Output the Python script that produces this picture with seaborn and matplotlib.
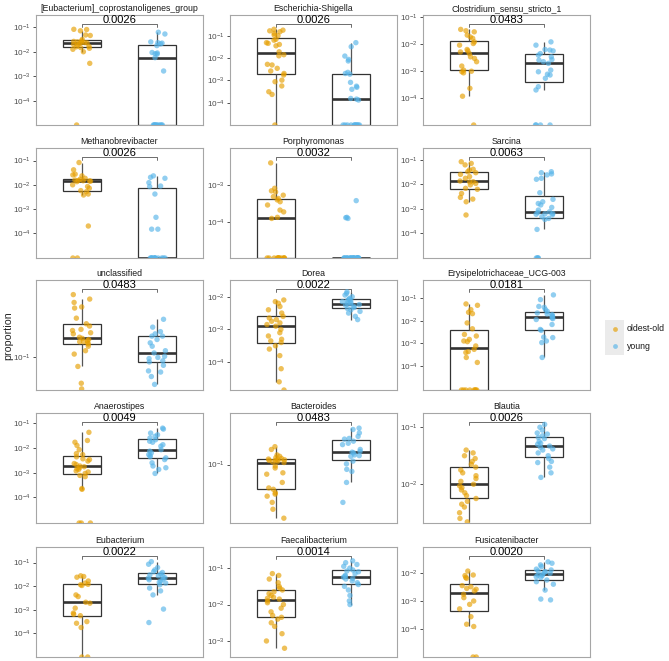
import numpy as np
import pandas as pd
import matplotlib
matplotlib.use('Agg')
import matplotlib.pyplot as plt
import seaborn as sns

# genera shown (facet order) and the p-values printed over each bracket
genera = ['[Eubacterium]_coprostanoligenes_group', 'Escherichia-Shigella', 'Clostridium_sensu_stricto_1',
          'Methanobrevibacter', 'Porphyromonas', 'Sarcina',
          'unclassified', 'Dorea', 'Erysipelotrichaceae_UCG-003',
          'Anaerostipes', 'Bacteroides', 'Blautia',
          'Eubacterium', 'Faecalibacterium', 'Fusicatenibacter']
p_values = ['0.0026', '0.0026', '0.0483', '0.0026', '0.0032', '0.0063', '0.0483', '0.0022',
            '0.0181', '0.0049', '0.0483', '0.0026', '0.0022', '0.0014', '0.0020']
groups = ['oldest-old', 'young']

# log10(proportion), None = proportion of 0
old_eubcop = [-1.09, -1.1, -1.15, -1.32, -1.34, -1.5, -1.56, -1.58, -1.6, -1.62, -1.63, -1.64, -1.66, -1.7,
              -1.73, -1.78, -1.8, -1.83, -1.86, -1.9, -2.0, -2.47, None]
young_eubcop = [-1.21, -1.28, -1.6, -1.63, -1.65, -1.68, -1.75, -2.03, -2.05, -2.08, -2.1, -2.24, -2.78] + [None] * 10

old_esch = [-0.71, -0.75, -0.78, -0.82, -0.89, -0.97, -1.0, -1.16, -1.2, -1.31, -1.34, -1.39, -1.45, -1.72, -1.85,
            -1.9, -2.28, -2.31, -2.46, -2.58, -2.69, -2.76, -2.99, -3.06, -3.25, -3.51, -3.63, None]
young_esch = [-1.31, -1.49, -1.91, -2.06, -2.13, -2.64, -2.69, -2.72, -3.09, -3.26, -3.31, -3.4, -3.81, -3.84,
              -3.88] + [None] * 11

old_clos = [-1.46, -1.51, -1.55, -1.67, -1.74, -1.79, -1.92, -1.98, -2.04, -2.2, -2.25, -2.29, -2.35, -2.47, -2.53,
            -2.65, -2.81, -2.96, -3.0, -3.02, -3.06, -3.63, -3.92, None]
young_clos = [-1.92, -2.04, -2.2, -2.22, -2.25, -2.35, -2.41, -2.47, -2.57, -2.59, -2.65, -2.71, -2.96, -3.02, -3.11,
              -3.14, -3.26, -3.57, -3.69] + [None] * 4

old_meth = [-1.08, -1.38, -1.56, -1.59, -1.63, -1.73, -1.77, -1.8, -1.82, -1.83, -1.84, -1.85, -1.87, -2.0, -2.07,
            -2.14, -2.24, -2.28, -2.38, -2.42, -3.7, None, None]
young_meth = [-1.63, -1.69, -1.73, -1.91, -2.05, -2.07, -2.38, -3.34, -3.83, -3.83] + [None] * 12

old_porph = [-2.38, -3.08, -3.15, -3.18, -3.27, -3.31, -3.36, -3.4, -3.45, -3.54, -3.68, -3.73, -3.88,
             -3.91] + [None] * 12
young_porph = [-3.42, -3.89, -3.91, -3.88] + [None] * 22

old_sarc = [-1.07, -1.14, -1.2, -1.38, -1.41, -1.48, -1.52, -1.59, -1.68, -1.75, -1.86, -1.89, -1.9, -1.96, -2.02,
            -2.16, -2.2, -2.37, -2.53, -2.6, -2.71, -3.25]
young_sarc = [-1.48, -1.52, -1.57, -1.61, -1.75, -1.79, -2.34, -2.61, -2.71, -2.78, -2.84, -2.94, -3.05, -3.12, -3.15,
              -3.19, -3.2, -3.22, -3.25, -3.32, -3.39, -3.43, -3.84] + [None] * 4

old_uncl = [-0.44, -0.48, -0.51, -0.55, -0.56, -0.65, -0.7, -0.72, -0.75, -0.76, -0.78, -0.79, -0.82, -0.83, -0.84,
            -0.85, -0.86, -0.86, -0.87, -0.88, -0.9, -0.94, -0.97, -1.08, -1.23, -1.28]
young_uncl = [-0.66, -0.73, -0.77, -0.79, -0.81, -0.81, -0.84, -0.87, -0.9, -0.94, -0.96, -0.99, -1.0, -1.01, -1.03,
              -1.04, -1.07, -1.12, -1.13, -1.17, -1.24]

old_dorea = [-2.1, -2.15, -2.2, -2.3, -2.4, -2.5, -2.6, -2.65, -2.7, -2.75, -2.8, -2.85, -2.9, -3.0, -3.1, -3.2, -3.3,
             -3.35, -3.4, -3.5, -3.6, -3.8, -4.2, -4.6, None]
young_dorea = [-1.85, -1.9, -1.95, -2.0, -2.05, -2.08, -2.1, -2.12, -2.15, -2.18, -2.2, -2.22, -2.24, -2.26, -2.3,
               -2.33, -2.36, -2.4, -2.45, -2.5, -2.6, -2.7]

old_erys = [-1.26, -1.32, -1.51, -1.63, -1.69, -2.1, -2.36, -2.61, -2.68, -2.83, -2.9, -2.93, -3.12, -3.27, -3.37,
            -3.41, -3.63, -3.85] + [None] * 8
young_erys = [-0.86, -1.07, -1.37, -1.41, -1.51, -1.59, -1.66, -1.7, -1.73, -1.78, -1.81, -1.88, -1.91, -1.95, -2.17,
              -2.39, -2.43, -2.73, -2.75, -2.9, -2.97, -3.63]

old_anae = [-1.37, -1.7, -1.77, -1.9, -2.07, -2.23, -2.27, -2.36, -2.44, -2.47, -2.53, -2.63, -2.67, -2.73, -2.76,
            -2.8, -2.84, -2.87, -2.93, -2.97, -3.03, -3.11, -3.16, -3.64, -3.67, None, None, None]
young_anae = [-1.2, -1.24, -1.4, -1.47, -1.53, -1.6, -1.67, -1.73, -1.77, -1.87, -1.93, -2.07, -2.13, -2.2, -2.27,
              -2.31, -2.36, -2.4, -2.47, -2.6, -2.73, -2.8, -2.87, -3.03]

old_bact = [-0.74, -0.78, -0.86, -0.88, -0.9, -0.91, -0.92, -0.93, -0.93, -0.94, -0.94, -0.95, -0.96, -0.97, -1.02,
            -1.05, -1.12, -1.14, -1.26, -1.34, -1.36, -1.41, -1.43, -1.46, -1.55, -1.65, -1.78]
young_bact = [-0.47, -0.49, -0.54, -0.59, -0.62, -0.63, -0.66, -0.69, -0.71, -0.78, -0.81, -0.82, -0.83, -0.86, -0.87,
              -0.88, -0.95, -0.99, -1.07, -1.1, -1.26, -1.55]

old_blau = [-1.4, -1.45, -1.5, -1.55, -1.6, -1.65, -1.7, -1.75, -1.8, -1.85, -1.9, -1.95, -2.0, -2.03, -2.06, -2.1,
            -2.15, -2.2, -2.25, -2.3, -2.35, -2.4, -2.5, -2.6, -2.66]
young_blau = [-0.95, -1.0, -1.05, -1.1, -1.12, -1.15, -1.18, -1.2, -1.25, -1.28, -1.3, -1.33, -1.35, -1.38, -1.4,
              -1.45, -1.5, -1.55, -1.6, -1.62, -1.7, -1.8, -1.88]

old_eubac = [-1.56, -1.59, -1.62, -1.78, -1.87, -1.92, -1.94, -1.97, -2.37, -2.44, -2.68, -2.72, -2.93, -3.14, -3.19,
             -3.25, -3.5, -3.57, -3.75, None, None]
young_eubac = [-0.96, -1.07, -1.21, -1.31, -1.38, -1.42, -1.48, -1.52, -1.56, -1.59, -1.64, -1.66, -1.7, -1.73, -1.78,
               -1.83, -1.87, -1.94, -2.08, -2.2, -2.37, -2.97, -3.54]

old_faec = [-1.15, -1.2, -1.3, -1.4, -1.5, -1.55, -1.6, -1.65, -1.7, -1.75, -1.8, -1.83, -1.85, -1.9, -1.95, -2.0,
            -2.1, -2.2, -2.3, -2.35, -2.4, -2.5, -2.6, -2.8, -3.0, -3.2]
young_faec = [-0.8, -0.85, -0.9, -0.95, -1.0, -1.05, -1.08, -1.1, -1.15, -1.2, -1.22, -1.25, -1.28, -1.3, -1.35,
              -1.4, -1.45, -1.5, -1.6, -1.75, -1.9, -2.0]

old_fusi = [-1.92, -2.06, -2.08, -2.15, -2.18, -2.44, -2.48, -2.54, -2.57, -2.63, -2.75, -2.87, -2.99, -3.11, -3.27,
            -3.55, -3.82, -3.9, None, None]
young_fusi = [-1.59, -1.64, -1.7, -1.76, -1.85, -1.88, -1.92, -1.94, -1.96, -2.0, -2.03, -2.06, -2.08, -2.12, -2.15,
              -2.24, -2.3, -2.39, -2.6, -2.92, -2.95]

old_series = [old_eubcop, old_esch, old_clos, old_meth, old_porph, old_sarc, old_uncl, old_dorea, old_erys,
              old_anae, old_bact, old_blau, old_eubac, old_faec, old_fusi]
young_series = [young_eubcop, young_esch, young_clos, young_meth, young_porph, young_sarc, young_uncl, young_dorea,
                young_erys, young_anae, young_bact, young_blau, young_eubac, young_faec, young_fusi]

# visible y range of each facet, log10 units
y_range = [(-4.97, -0.51), (-5.0, -0.07), (-4.98, -0.93), (-5.02, -0.48), (-5.0, -1.97), (-5.01, -0.51),
           (-1.29, -0.31), (-4.85, -1.49), (-5.07, -0.2), (-5.03, -0.59), (-1.85, -0.25), (-2.68, -0.75),
           (-5.0, -0.34), (-3.44, -0.42), (-4.99, -1.06)]

rows = []
for g, olds, youngs in zip(genera, old_series, young_series):
    for grp, vals in zip(groups, [olds, youngs]):
        for v in vals:
            rows.append({'genus': g, 'group': grp, 'proportion': 0.0 if v is None else 10 ** v})
df = pd.DataFrame(rows)

sns.set_style('white')
plt.rcParams['font.family'] = ['Liberation Sans', 'DejaVu Sans']

pal = {'oldest-old': '#E69F00', 'young': '#56B4E9'}
np.random.seed(7)

fig = plt.figure(figsize=(6.69, 6.61), dpi=100)
col_x = [36, 230, 423]
row_top = [15, 148, 280, 413, 547]
W, H = 167, 110

for i, g in enumerate(genera):
    r, c = divmod(i, 3)
    ax = fig.add_axes([col_x[c] / 669, 1 - (row_top[r] + H) / 661, W / 669, H / 661])
    lo, hi = y_range[i]
    sub = df[df['genus'] == g].copy()
    # zeros sit on the lower panel edge, like -Inf in ggplot
    sub['shown'] = sub['proportion'].where(sub['proportion'] > 0, 10 ** lo)

    sns.boxplot(data=sub, x='group', y='shown', order=groups, width=0.5, showfliers=False, showcaps=False,
                color='white', linecolor='#333333', linewidth=0.9, medianprops=dict(linewidth=1.9),
                whiskerprops=dict(color='#555555'), log_scale=True, ax=ax)
    sns.stripplot(data=sub, x='group', y='shown', order=groups, hue='group', hue_order=groups, palette=pal,
                  jitter=0.12, size=3.9, alpha=0.65, linewidth=0, legend=False, log_scale=True, zorder=3, ax=ax)

    ax.set_xlim(-0.6, 1.6)
    ax.set_ylim(10 ** lo, 10 ** hi)
    decades = [k for k in range(-6, 1) if lo + 0.08 < k < hi - 0.05]
    ax.set_yticks([10.0 ** k for k in decades], labels=[r'$\mathdefault{10^{%d}}$' % k for k in decades])
    ax.yaxis.set_minor_locator(plt.NullLocator())
    ax.set_xticks([])
    ax.set_xlabel('')
    ax.set_ylabel('')
    ax.tick_params(axis='y', left=True, length=2.5, width=0.6, color='#333333', labelsize=5.9,
                   labelcolor='#4D4D4D', pad=1.5)
    for s in ax.spines.values():
        s.set_visible(True)
        s.set_color('#A6A6A6')
        s.set_linewidth(0.8)
    ax.set_title(g, fontsize=6.3, color='#1A1A1A', pad=3)

    tr = ax.get_xaxis_transform()
    ax.plot([0, 0, 1, 1], [0.893, 0.918, 0.918, 0.893], transform=tr, color='#555555', lw=0.6, clip_on=False)
    ax.text(0.5, 0.928, p_values[i], transform=tr, ha='center', va='baseline', fontsize=8, color='black',
            zorder=5)

fig.text(8 / 669, 1 - 336 / 661, 'proportion', rotation=90, ha='center', va='center', fontsize=7.7)

# legend: grey key boxes with a dot each, labels to the right
lax = fig.add_axes([605 / 669, 1 - 355 / 661, 19 / 669, 35 / 661])
lax.set_facecolor('#EBEBEB')
lax.set_xlim(0, 1)
lax.set_ylim(0, 2)
lax.set_xticks([])
lax.set_yticks([])
for s in lax.spines.values():
    s.set_visible(False)
for k, grp in enumerate(groups):
    yk = 1.5 - k
    lax.scatter([0.5], [yk], s=12, color=pal[grp], alpha=0.65, linewidths=0)
    lax.text(1.15, yk, grp, ha='left', va='center', fontsize=6.3, color='#1A1A1A', clip_on=False)

fig.savefig('out.png', dpi=100)
